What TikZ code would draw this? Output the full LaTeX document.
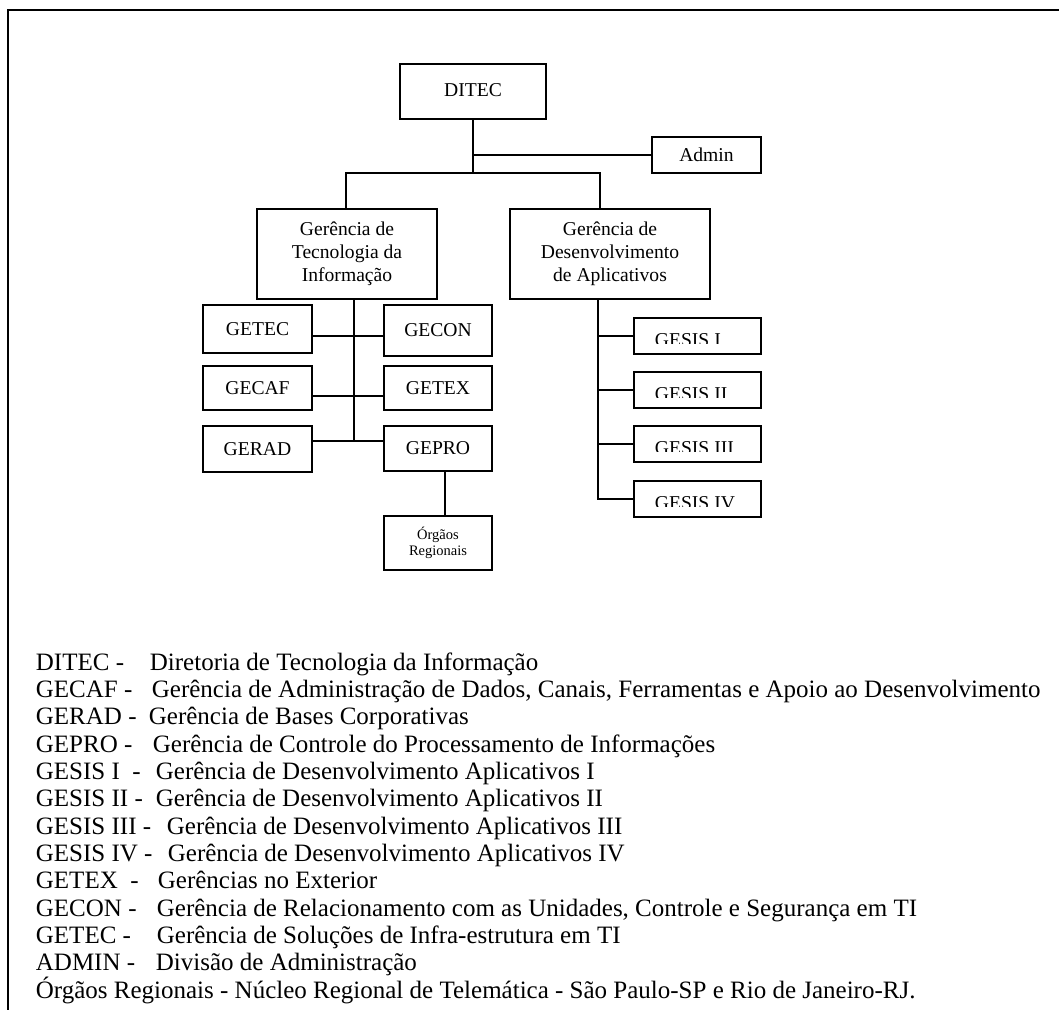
\documentclass[tikz,border=0pt]{standalone}
\usepackage{fontspec}
\setmainfont{Liberation Serif}
\begin{document}
\begin{tikzpicture}[x=1pt,y=-1pt,
  line width=1.8pt,
  box/.style={draw, line width=1.8pt, inner sep=0pt, align=center,
    font=\fontsize{19.6}{23}\selectfont},
  smallbox/.style={box, font=\fontsize{14.5}{15.5}\selectfont},
  legend/.style={anchor=base west, inner sep=0pt,
    font=\fontsize{25}{27}\selectfont}]
\useasboundingbox (0,0) rectangle (1059,1010);
\draw[line width=2pt] (1059,10) coordinate (fr1) -- (8,10) coordinate (fr2) -- (8,1010) coordinate (fr3);

% boxes
\node[box, minimum width=146pt, minimum height=55pt] (ditec) at (473,91.5) {\raisebox{3pt}{DITEC}};
\node[box, minimum width=109pt, minimum height=36pt] (admin) at (706.5,155) {\raisebox{-3pt}{Admin}};
\node[box, minimum width=180pt, minimum height=90pt] (gti) at (347,254) {Gerência de\\Tecnologia da\\Informação};
\node[box, minimum width=200pt, minimum height=90pt] (gda) at (610,254) {Gerência de\\Desenvolvimento\\de Aplicativos};

\node[box, minimum width=109pt, minimum height=48pt] (getec) at (257.5,329) {GETEC};
\node[box, minimum width=108pt, minimum height=51pt] (gecon) at (438,330.5) {GECON};
\node[box, minimum width=109pt, minimum height=44pt] (gecaf) at (257.5,388) {GECAF};
\node[box, minimum width=108pt, minimum height=44pt] (getex) at (438,388) {GETEX};
\node[box, minimum width=109pt, minimum height=46pt] (gerad) at (257.5,449) {GERAD};
\node[box, minimum width=108pt, minimum height=45pt] (gepro) at (438,448.5) {GEPRO};
\node[smallbox, minimum width=108pt, minimum height=54pt] (orgaos) at (438,543) {Órgãos\\Regionais};

% GESIS boxes with clipped labels
\foreach \n/\t/\lab in {1/318/GESIS I, 2/372/GESIS II, 3/426/GESIS III, 4/481/GESIS IV}{
  \node[box, minimum width=127pt, minimum height=36pt] (gesis\n) at (697.5,\t+18) {};
  \begin{scope}
    \clip (634,\t) rectangle (761,\t+25.5);
    \node[anchor=base west, inner sep=0pt, font=\fontsize{19.6}{23}\selectfont] (gesislab\n) at (654,\t+28) {\lab};
  \end{scope}
}

% connectors top
\coordinate (bus) at (473,173);
\draw (ditec.south) -- (bus);
\draw (ditec.south |- admin.west) -- (admin.west);
\draw ([xshift=-1pt]gti.north) |- (bus) -| ([xshift=-10pt]gda.north);

% GTI tree
\draw ([xshift=7pt]gti.south) -- ++(0,142) coordinate (spine);
\draw ([yshift=-7pt]getec.east) -- ([yshift=-5.5pt]gecon.west);
\draw ([yshift=-8pt]gecaf.east) -- ([yshift=-8pt]getex.west);
\draw ([yshift=8pt]gerad.east) -- ([yshift=7.5pt]gepro.west);
\draw ([xshift=7pt]gepro.south) -- ([xshift=7pt]orgaos.north);

% GDA tree
\draw ([xshift=-12pt]gda.south) |- (gesis4.west);
\draw (gesis1.west) -- ++(-36,0);
\draw (gesis2.west) -- ++(-36,0);
\draw (gesis3.west) -- ++(-36,0);

% legend
\node[legend] (l1) at (35,670) {\makebox[114pt][l]{DITEC -}Diretoria de Tecnologia da Informação};
\node[legend] (l2) at (35,697.3) {\makebox[116pt][l]{GECAF -}Gerência de Administração de Dados, Canais, Ferramentas e Apoio ao Desenvolvimento};
\node[legend] (l3) at (35,724.7) {\makebox[113pt][l]{GERAD -}Gerência de Bases Corporativas};
\node[legend] (l4) at (35,752) {\makebox[117pt][l]{GEPRO -}Gerência de Controle do Processamento de Informações};
\node[legend] (l5) at (35,779.3) {\makebox[120pt][l]{GESIS I\ \ -}Gerência de Desenvolvimento Aplicativos I};
\node[legend] (l6) at (35,806.7) {\makebox[120pt][l]{GESIS II -}Gerência de Desenvolvimento Aplicativos II};
\node[legend] (l7) at (35,834) {\makebox[131pt][l]{GESIS III -}Gerência de Desenvolvimento Aplicativos III};
\node[legend] (l8) at (35,861.3) {\makebox[132pt][l]{GESIS IV -}Gerência de Desenvolvimento Aplicativos IV};
\node[legend] (l9) at (35,888.7) {\makebox[122pt][l]{GETEX\ \ -}Gerências no Exterior};
\node[legend] (l10) at (35,916) {\makebox[121pt][l]{GECON -}Gerência de Relacionamento com as Unidades, Controle e Segurança em TI};
\node[legend] (l11) at (35,943.3) {\makebox[121pt][l]{GETEC -}Gerência de Soluções de Infra-estrutura em TI};
\node[legend] (l12) at (35,970.7) {\makebox[120pt][l]{ADMIN -}Divisão de Administração};
\node[legend] (l13) at (35,998) {Órgãos Regionais - Núcleo Regional de Telemática - São Paulo-SP e Rio de Janeiro-RJ.};
\end{tikzpicture}
\end{document}
